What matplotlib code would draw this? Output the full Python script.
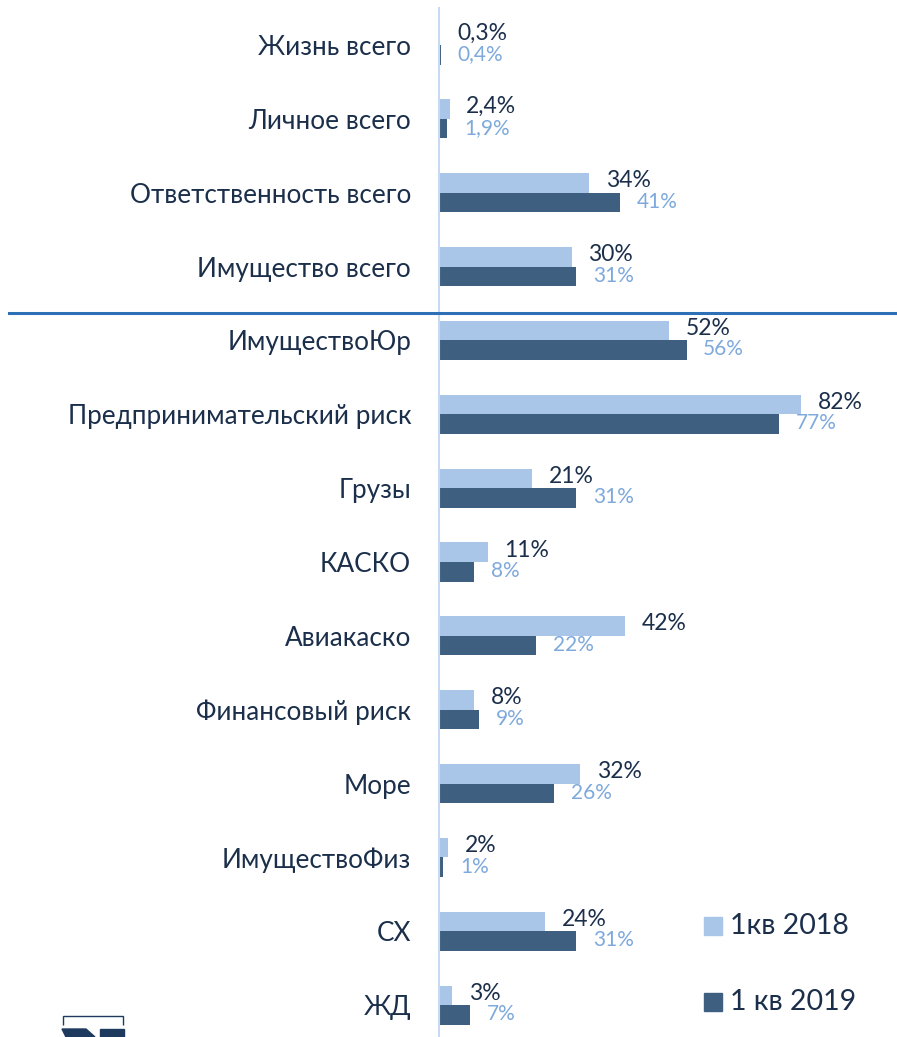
import matplotlib
matplotlib.use('Agg')
import matplotlib.pyplot as plt
import numpy as np
from matplotlib.patches import Rectangle, Polygon

plt.rcParams['font.family'] = ['Lato', 'DejaVu Sans']

# Data
categories = ['Жизнь всего', 'Личное всего', 'Ответственность всего', 'Имущество всего',
              'ИмуществоЮр', 'Предпринимательский риск', 'Грузы', 'КАСКО', 'Авиакаско',
              'Финансовый риск', 'Море', 'ИмуществоФиз', 'СХ', 'ЖД']
q1_2018 = [0.3, 2.4, 34, 30, 52, 82, 21, 11, 42, 8, 32, 2, 24, 3]
q1_2019 = [0.4, 1.9, 41, 31, 56, 77, 31, 8, 22, 9, 26, 1, 31, 7]
labels_2018 = ['0,3%', '2,4%', '34%', '30%', '52%', '82%', '21%', '11%', '42%', '8%', '32%', '2%', '24%', '3%']
labels_2019 = ['0,4%', '1,9%', '41%', '31%', '56%', '77%', '31%', '8%', '22%', '9%', '26%', '1%', '31%', '7%']
series_names = ['1кв 2018', '1 кв 2019']

# Colors
c_light = '#A9C6E8'
c_dark = '#3F5F80'
c_text = '#1B2F4B'
c_text_light = '#7EA9DC'
c_axis = '#C6DAF2'
c_sep = '#2E70B5'

W, H = 897, 1037
fig = plt.figure(figsize=(W / 100, H / 100), dpi=100)
ax_top = 8
ax = fig.add_axes([439 / W, 0, 442 / W, (H - ax_top) / H])

y = np.arange(len(categories))
bh = 0.265
ax.barh(y - bh / 2, q1_2018, height=bh, color=c_light)
ax.barh(y + bh / 2, q1_2019, height=bh, color=c_dark)

# Value labels
for i in range(len(categories)):
    ax.annotate(labels_2018[i], (q1_2018[i], y[i] - bh / 2 - 0.03), xytext=(12, 0),
                textcoords='offset points', va='center', ha='left',
                fontsize=16.5, color=c_text)
    ax.annotate(labels_2019[i], (q1_2019[i], y[i] + bh / 2 - 0.01), xytext=(12, 0),
                textcoords='offset points', va='center', ha='left',
                fontsize=15, color=c_text_light)

ax.set_xlim(0, 100)
ax.set_ylim(13.43, -0.5)
ax.set_yticks(y)
ax.set_yticklabels(categories, fontsize=18.8, color=c_text)
ax.tick_params(axis='y', length=0, pad=20)
ax.set_xticks([])
for s in ['top', 'right', 'bottom']:
    ax.spines[s].set_visible(False)
ax.spines['left'].set_color(c_axis)
ax.spines['left'].set_linewidth(1.5)

# Separator line between totals and lines of business
sep_y = 1 - 313 / H
fig.add_artist(plt.Line2D([9 / W, 1], [sep_y, sep_y], color=c_sep, lw=2.2))

# Legend (drawn manually)
for k, (name, col) in enumerate(zip(series_names, [c_light, c_dark])):
    yc = 926 + 76 * k
    fig.add_artist(Rectangle((704 / W, 1 - (yc + 9) / H), 18 / W, 18 / H, color=col))
    fig.text(730 / W, 1 - yc / H, name, fontsize=20.5, color=c_text, va='center', ha='left')

# Logo fragment at bottom left
lc = '#1E3A5F'
fig.add_artist(Polygon([(63 / W, 1 - 1025 / H), (63 / W, 1 - 1016 / H), (123 / W, 1 - 1016 / H),
                        (123 / W, 1 - 1025 / H)], closed=False, fill=False, edgecolor=lc, lw=1.0))
fig.add_artist(Polygon([(62 / W, 1 - 1029 / H), (86 / W, 1 - 1029 / H), (95 / W, 1 - 1037 / H),
                        (66 / W, 1 - 1037 / H)], closed=True, color=lc))
fig.add_artist(Rectangle((100 / W, 0), 24 / W, 8 / H, color=lc))

fig.savefig('out.png', dpi=100)
